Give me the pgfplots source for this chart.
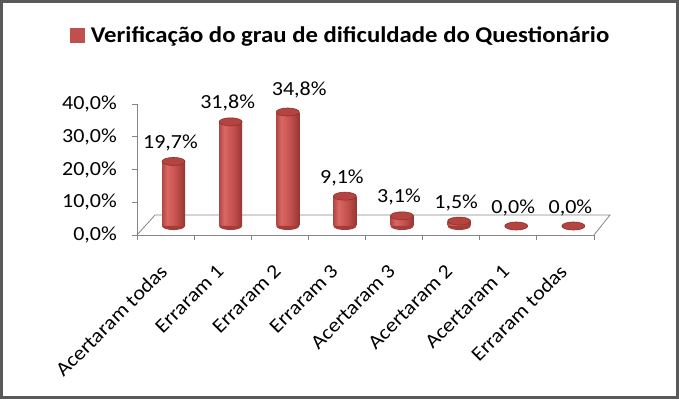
\documentclass[border=0pt]{standalone}
\usepackage{pgfplots}
\usepackage{pgfplotstable}
\pgfplotsset{compat=1.18}
\usepackage{fontspec}
\setmainfont{Carlito}[FakeStretch=1.1]
\definecolor{barL}{HTML}{B04845}
\definecolor{barH}{HTML}{DA6764}
\definecolor{barM}{HTML}{C4514E}
\definecolor{barR}{HTML}{963633}
\definecolor{legred}{HTML}{C0504D}
\definecolor{topred}{HTML}{B3443F}
\definecolor{topedge}{HTML}{8F302C}
\definecolor{botred}{HTML}{A53C3A}
\definecolor{axgray}{HTML}{868686}
\definecolor{frameg}{HTML}{595959}
\pgfdeclarehorizontalshading{cyl}{100bp}{color(0bp)=(barL); color(25bp)=(barL); color(36bp)=(barH); color(55bp)=(barM); color(75bp)=(barR); color(100bp)=(barR)}
\pgfdeclareplotmark{lowhalf}{%
  \pgfpathmoveto{\pgfqpoint{-\pgfplotmarksize}{0pt}}%
  \pgfpatharc{180}{360}{\pgfplotmarksize and 0.35\pgfplotmarksize}%
  \pgfpathclose
  \pgfusepathqfill}
\pgfplotstableread{
x y z
0 19.7 0
1 31.8 0
2 34.8 0
3 9.1 0
4 3.1 0
5 1.5 0
6 0.0 0
7 0.0 0
}\data
\newcommand{\lblfont}{\fontsize{20}{24}\selectfont}
\pgfplotsset{cylbar/.style={forget plot, ybar, bar width=23pt, draw=none, shade, shading=cyl}}
\begin{document}
\begin{tikzpicture}[x=1pt,y=1pt]
\useasboundingbox (0,0) rectangle (679,399);
\fill[white] (0,0) rectangle (679,399);
\begin{axis}[
  at={(137pt,164pt)}, anchor=south west, scale only axis,
  width=457pt, height=131pt,
  xmin=-0.5, xmax=7.5, ymin=0, ymax=40,
  axis lines*=left,
  axis line style={draw=axgray, line width=0.8pt},
  tick align=outside,
  major tick length=5pt, minor tick length=5pt,
  every tick/.style={draw=axgray, line width=0.8pt},
  xtick={0,...,7},
  xticklabels={Acertaram todas, Erraram 1, Erraram 2, Erraram 3, Acertaram 3, Acertaram 2, Acertaram 1, Erraram todas},
  major x tick style={draw=none},
  minor xtick={-0.5,0.5,...,7.5},
  minor x tick style={draw=axgray, line width=0.8pt},
  xticklabel style={xshift=-7pt, yshift=-23pt, rotate=45, anchor=north east, inner sep=0pt, font=\lblfont},
  ytick={0,10,20,30,40},
  yticklabels={{0,0\%},{10,0\%},{20,0\%},{30,0\%},{40,0\%}},
  yticklabel style={anchor=east, inner sep=0pt, font=\lblfont, xshift=-15pt},
  clip=false,
]
\draw[axgray, line width=0.8pt] (axis cs:-0.5,0) -- (axis cs:-0.185,6.1) -- (axis cs:7.78,6.1) -- (axis cs:7.5,0);
\end{axis}
\begin{axis}[
  at={(137pt,164pt)}, anchor=south west, scale only axis,
  width=457pt, height=131pt,
  xmin=-0.639, xmax=7.361, ymin=-2.75, ymax=37.25,
  hide axis, clip=false,
  /pgf/number format/assume math mode=true,
  legend style={at={(0.446,1.527)}, anchor=center, draw=none, fill=none, inner sep=0pt, font=\fontsize{22.5}{27}\selectfont\bfseries},
]
\addlegendimage{legend image code/.code={\fill[legred] (0pt,-7pt) rectangle (13.5pt,7pt); \path (18pt,0pt);}}
\addlegendentry{Verificação do grau de dificuldade do Questionário}
\addplot[forget plot, only marks, mark=lowhalf, mark size=11.5pt, mark options={fill=botred, draw=none}] table[x=x, y=z] \data;
\addplot[cylbar] coordinates {(0,19.7)};
\addplot[cylbar] coordinates {(1,31.8)};
\addplot[cylbar] coordinates {(2,34.8)};
\addplot[cylbar] coordinates {(3,9.1)};
\addplot[cylbar] coordinates {(4,3.1)};
\addplot[cylbar] coordinates {(5,1.5)};
\addplot[forget plot, only marks, mark=*, mark size=11.5pt,
  mark options={yscale=0.35, fill=topred, draw=topedge, line width=0.6pt},
  nodes near coords={\pgfmathprintnumber[fixed, fixed zerofill, precision=1, use comma]{\pgfplotspointmeta}\%},
  every node near coord/.append style={font=\lblfont, anchor=center, yshift=18.5pt, xshift=-3pt, black},
  coordinate style/.condition={x==2}{xshift=14.5pt, yshift=4pt},
] table[x=x, y=y] \data;
\end{axis}
\draw[line width=3pt, frameg] (1.5,1.5) rectangle (677.5,397.5);
\end{tikzpicture}
\end{document}
